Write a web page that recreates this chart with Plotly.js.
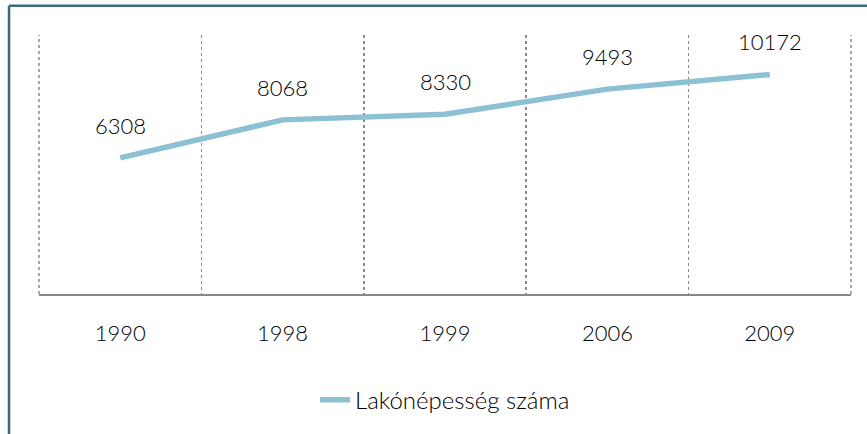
<!DOCTYPE html>
<html>
<head>
<meta charset="utf-8">
<script src="https://cdn.plot.ly/plotly-3.0.1.min.js"></script>
<style>
  html, body { margin: 0; padding: 0; background: #fff; }
  #chart { width: 867px; height: 434px; }
</style>
</head>
<body>
<div id="chart"></div>
<script>
const years = ['1990', '1998', '1999', '2006', '2009'];
const population = [6308, 8068, 8330, 9493, 10172];
const seriesName = 'Lakónépesség száma';

const FONT = 'Lato, "Noto Sans", sans-serif';
const WEIGHT = 300;
const lineColor = '#8CC0D3';

const trace = {
  type: 'scatter',
  mode: 'lines',
  x: years,
  y: population,
  name: seriesName,
  line: { color: lineColor, width: 5.5 },
  hoverinfo: 'skip'
};

// category index positions so numeric-looking labels are not read as numbers
const annotations = years.map((yr, i) => ({
  x: i, y: population[i], xref: 'x', yref: 'y',
  text: String(population[i]), showarrow: false,
  yanchor: 'bottom', yshift: 17,
  font: { family: FONT, size: 22, color: '#000', weight: WEIGHT }
}));

const L = 38.5, R = 16, T = 35, B = 138;
const W = 867, H = 434;
const pw = W - L - R, ph = H - T - B;
const bx = (8.5 - L) / pw;
const by = 1 + (T - 5.5) / ph;
const gridStyle = { color: '#8a8a8a', width: 1.5, dash: 'dot' };

const layout = {
  width: W, height: H,
  margin: { l: L, r: R, t: T, b: B, pad: 0 },
  paper_bgcolor: '#fff', plot_bgcolor: '#fff',
  font: { family: FONT, size: 22, color: '#000', weight: WEIGHT },
  showlegend: true,
  legend: {
    orientation: 'h', x: 0.5, xanchor: 'center', y: (296 - 403) / ph, yanchor: 'middle',
    font: { family: FONT, size: 24, color: '#000', weight: WEIGHT }
  },
  xaxis: {
    type: 'category',
    range: [-0.5, 4.5],
    tickson: 'boundaries',
    showgrid: true, gridcolor: gridStyle.color, griddash: 'dot', gridwidth: gridStyle.width,
    showline: true, linecolor: '#888', linewidth: 2,
    ticks: '', ticklabelstandoff: 19,
    tickfont: { family: FONT, size: 22, color: '#000', weight: WEIGHT },
    fixedrange: true
  },
  yaxis: {
    range: [0, 12000],
    visible: false, showgrid: false, zeroline: false,
    fixedrange: true
  },
  annotations: annotations,
  shapes: [
    { type: 'line', xref: 'paper', yref: 'paper', x0: 0, x1: 0, y0: 0, y1: 1, line: gridStyle, layer: 'below' },
    { type: 'line', xref: 'paper', yref: 'paper', x0: 1, x1: 1, y0: 0, y1: 1, line: gridStyle, layer: 'below' },
    { type: 'line', xref: 'paper', yref: 'paper', x0: bx, x1: bx, y0: -2, y1: by,
      line: { color: '#3B6A7A', width: 2.5 } },
    { type: 'line', xref: 'paper', yref: 'paper', x0: bx, x1: 1.5, y0: by, y1: by,
      line: { color: '#3B6A7A', width: 2.5 } }
  ]
};

Plotly.newPlot('chart', [trace], layout, { displayModeBar: false, staticPlot: true });
</script>
</body>
</html>
